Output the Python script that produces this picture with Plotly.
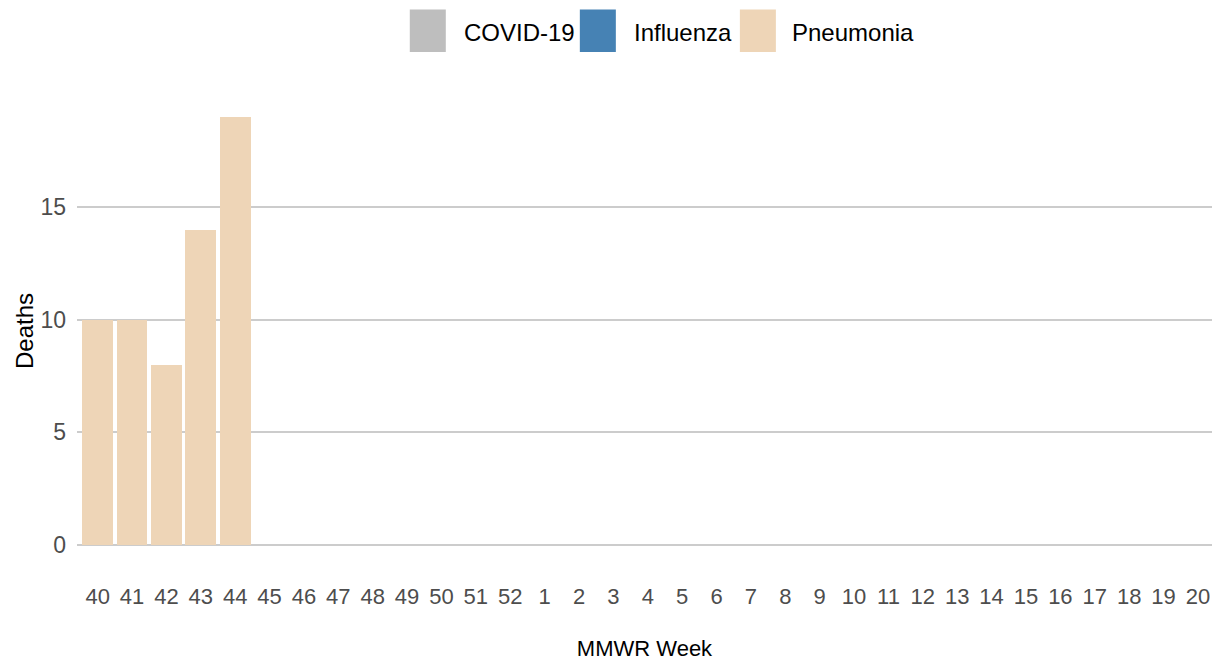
import plotly.graph_objects as go

weeks = ["40", "41", "42", "43", "44", "45", "46", "47", "48", "49", "50", "51", "52",
         "1", "2", "3", "4", "5", "6", "7", "8", "9", "10", "11", "12", "13", "14",
         "15", "16", "17", "18", "19", "20"]
covid = [0] * 33
influenza = [0] * 33
pneumonia = [10, 10, 8, 14, 19] + [0] * 28

series_names = ["COVID-19", "Influenza", "Pneumonia"]
series_colors = ["#BEBEBE", "#4682B4", "#EED5B7"]
series_values = [covid, influenza, pneumonia]

fig = go.Figure()
for name, color, vals in zip(series_names, series_colors, series_values):
    fig.add_trace(go.Bar(x=weeks, y=vals, name=name, marker_color=color,
                         marker_line_width=0, showlegend=False))

font_family = "Liberation Sans, Arial, sans-serif"

# page offset (body margin) compensation
W, H = 1204, 653
L, T = 69.3, 88.1
B = H - 558.4
PW, PH = W - L, H - T - B


def px(x_img):
    return (x_img - 8 - L) / PW


def py(y_img):
    return (H - B - (y_img - 8)) / PH


# manual legend with large ggplot-style keys
legend_keys = [(410, 446, 462), (580, 616, 632), (740, 776, 790)]
for (x0, x1, tx), name, color in zip(legend_keys, series_names, series_colors):
    fig.add_shape(type="rect", xref="paper", yref="paper",
                  x0=px(x0), x1=px(x1), y0=py(52), y1=py(9.5),
                  fillcolor=color, line_width=0, layer="above")
    fig.add_annotation(text=name, xref="paper", yref="paper",
                       x=px(tx), y=py(33),
                       xanchor="left", yanchor="middle", showarrow=False,
                       font=dict(family=font_family, size=24, color="#000000"))

fig.update_layout(
    barmode="stack",
    bargap=0.1,
    width=W, height=H,
    margin=dict(l=L, r=0, t=T, b=B, pad=0, autoexpand=False),
    plot_bgcolor="white",
    paper_bgcolor="white",
    font=dict(family=font_family, size=22, color="#4D4D4D"),
    xaxis=dict(
        type="category",
        range=[-0.6, 32.41],
        automargin=False,
        showgrid=False, zeroline=False, showline=False, ticks="",
        tickfont=dict(size=22, color="#4D4D4D"),
        ticklabelstandoff=15,
        title=dict(text="MMWR Week", font=dict(size=22, color="#000000"), standoff=43),
    ),
    yaxis=dict(
        range=[-0.95, 19.95],
        tickvals=[0, 5, 10, 15],
        automargin=False,
        showgrid=True, gridcolor="#CCCCCC", gridwidth=1.8,
        zeroline=False, showline=False, ticks="",
        tickfont=dict(size=23, color="#4D4D4D"),
        ticklabelstandoff=10,
        title=dict(text="Deaths", font=dict(size=24, color="#000000"), standoff=0),
    ),
)

fig.write_html("out.html")
